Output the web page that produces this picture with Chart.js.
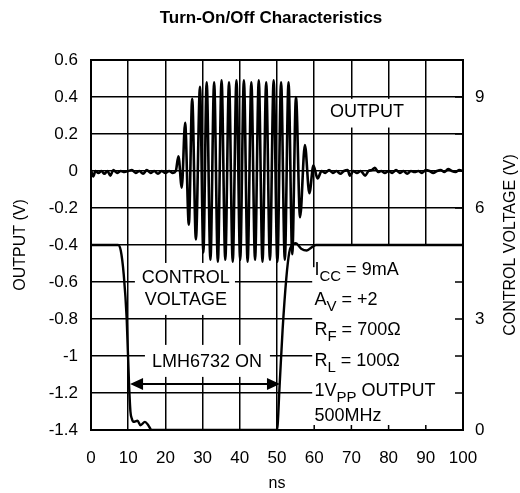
<!DOCTYPE html>
<html>
<head>
<meta charset="utf-8">
<script src="https://cdn.jsdelivr.net/npm/chart.js@4.4.1/dist/chart.umd.min.js"></script>
<style>
  body { margin: 0; background: #fff; }
  #wrap { width: 520px; height: 493px; position: relative; }
</style>
</head>
<body>
<div id="wrap"><canvas id="turnChart"></canvas></div>
<script>
// OUTPUT trace: time (ns) and level (V), peaks/troughs
const outTime = [0, 0.6, 1.2, 2, 2.8, 3.6, 4.4, 5.2, 6, 7, 8, 9, 10, 11, 12, 13, 14, 15, 16, 17, 18, 19, 20, 21, 22, 22.8,
  23.5, 24.4, 25.3, 26.3, 27.2, 28.2, 29.3, 30.2, 31.1, 32.1, 33.1, 34.1, 35.1, 36.1, 37.1, 38.1, 39.1, 40.1, 41.1,
  42.1, 43.1, 44.1, 45.1, 46.1, 47.1, 48.1, 49.1, 50.1, 51.1, 52.1, 53.1, 54.1, 55.1, 56.2, 57.5, 58.7, 59.8, 60.9,
  62, 63, 64, 65, 66, 67, 68, 69, 69.6, 70.5, 71.5, 72.5, 73.7, 74.6, 75.5, 76.3, 77.2, 78, 79, 80, 81, 82, 83, 84,
  85, 86, 87, 88, 89, 90, 91, 92, 93, 94, 95, 96, 97, 98, 99, 100];
const outVolt = [0.005, -0.03, 0.0, -0.01, 0.0, -0.015, 0.0, -0.025, 0.005, -0.01, 0.0, -0.005, 0.0, 0.005, -0.01, 0.0, -0.015, 0.005, -0.01, 0.0, -0.015, 0.0, -0.01, 0.0, -0.01, 0.0,
  0.08, -0.09, 0.26, -0.29, 0.39, -0.37, 0.455, -0.44, 0.48, -0.48, 0.48, -0.49, 0.49, -0.48, 0.48, -0.49, 0.49, -0.48, 0.49,
  -0.49, 0.48, -0.48, 0.49, -0.49, 0.48, -0.48, 0.49, -0.49, 0.48, -0.48, 0.48, -0.45, 0.40, -0.25, 0.14, -0.12, 0.03, -0.04,
  0.0, -0.01, 0.005, -0.01, 0.0, -0.015, 0.0, 0.005, -0.025, 0.0, -0.01, 0.0, -0.025, 0.0, 0.005, 0.017, -0.005, 0.0, -0.01, 0.0,
  -0.01, 0.005, -0.01, 0.0, -0.015, 0.0, -0.005, 0.0, -0.01, 0.005, 0.0, -0.01, 0.0, 0.005, -0.005, 0.01, 0.0, -0.005, 0.005, 0.0];

// CONTROL VOLTAGE trace (right axis, V)
const ctrlTime = [0, 7.3, 8, 8.8, 9.6, 10.2, 10.6, 11, 11.4, 12.5, 13.3, 14.5, 15.4, 16.3, 50, 50.7, 51.5, 52.5, 53.3, 54, 55, 56.5, 58, 59.5, 60.5, 100];
const ctrlVolt = [5, 5, 4.85, 4.2, 3.0, 1.3, 0.5, 0.3, 0.22, 0.25, 0.13, 0.22, 0.13, 0, 0, 1.2, 2.7, 4.1, 4.8, 5.0, 5.05, 4.9, 4.85, 4.95, 5, 5];

const rightLabels = [0, 3, 6, 9];
const noteLines = [
  [['I', 0], ['CC', 1], [' = 9mA', 0]],
  [['A', 0], ['V', 1], [' = +2', 0]],
  [['R', 0], ['F', 1], [' = 700\u03A9', 0]],
  [['R', 0], ['L', 1], [' = 100\u03A9', 0]],
  [['1V', 0], ['PP', 1], [' OUTPUT', 0]],
  [['500MHz', 0]]
];
const noteY = [-0.535, -0.697, -0.859, -1.027, -1.189, -1.324];

const FONT = "'Liberation Sans', Arial, Helvetica, sans-serif";

const annot = {
  id: 'annot',
  beforeDatasetsDraw(chart) {
    const { ctx, chartArea: a, scales: { x, y, y2 } } = chart;
    const px = v => x.getPixelForValue(v);
    const py = v => y.getPixelForValue(v);
    ctx.save();
    ctx.fillStyle = '#fff';
    // blank lower-right block for the conditions text
    const x60 = px(60), yq = py(-0.4);
    ctx.fillRect(x60 + 1, yq + 1, a.right - x60 - 1, a.bottom - yq - 1);
    ctx.fillRect(x60 - 2, py(-0.52), 4, a.bottom - py(-0.52));
    // label boxes
    const box = (x0, x1, y0, y1) => ctx.fillRect(px(x0), py(y0), px(x1) - px(x0), py(y1) - py(y0));
    box(62.1, 86.3, 0.39, 0.235);
    box(11.8, 38.7, -0.497, -0.778);
    box(14.5, 48.1, -0.94, -1.113);

    // inward ticks
    ctx.strokeStyle = '#000';
    ctx.lineWidth = 1.5;
    ctx.beginPath();
    for (let i = 1; i < 10; i++) {
      const yy = y2.getPixelForValue(i);
      ctx.moveTo(a.right, yy); ctx.lineTo(a.right - 8, yy);
    }
    for (let t = 70; t <= 90; t += 10) {
      ctx.moveTo(px(t), a.bottom); ctx.lineTo(px(t), a.bottom - 5);
    }
    ctx.moveTo(x60, a.bottom); ctx.lineTo(x60, a.bottom - 5);
    ctx.stroke();

    ctx.fillStyle = '#000';
    ctx.font = '18px ' + FONT;
    ctx.textBaseline = 'middle';
    ctx.textAlign = 'center';
    ctx.fillText('OUTPUT', px(74.2), py(0.319));
    ctx.fillText('CONTROL', px(25.5), py(-0.578));
    ctx.fillText('VOLTAGE', px(25.5), py(-0.697));
    ctx.fillText('LMH6732 ON', px(31.2), py(-1.032));

    // double arrow
    const ay = py(-1.151), ax0 = px(10.5), ax1 = px(50.8);
    ctx.lineWidth = 2;
    ctx.beginPath();
    ctx.moveTo(ax0 + 10, ay); ctx.lineTo(ax1 - 10, ay);
    ctx.stroke();
    ctx.beginPath();
    ctx.moveTo(ax0, ay); ctx.lineTo(ax0 + 13, ay - 6); ctx.lineTo(ax0 + 13, ay + 6); ctx.closePath();
    ctx.moveTo(ax1, ay); ctx.lineTo(ax1 - 13, ay - 6); ctx.lineTo(ax1 - 13, ay + 6); ctx.closePath();
    ctx.fill();

    // conditions
    ctx.textAlign = 'left';
    noteLines.forEach((parts, i) => {
      let cx = px(59.8) + 1;
      const cy = py(noteY[i]);
      parts.forEach(([s, sub]) => {
        ctx.font = (sub ? '15px ' : '18px ') + FONT;
        ctx.fillText(s, cx, cy + (sub ? 7 : 0));
        cx += ctx.measureText(s).width;
      });
    });
    ctx.restore();
  },
  afterDraw(chart) {
    const { ctx, chartArea: a } = chart;
    ctx.save();
    ctx.strokeStyle = '#000';
    ctx.lineWidth = 2;
    ctx.strokeRect(a.left, a.top, a.right - a.left, a.bottom - a.top);
    ctx.fillStyle = '#000';
    ctx.textAlign = 'center';
    ctx.textBaseline = 'middle';
    ctx.font = 'bold 17px ' + FONT;
    ctx.fillText('Turn-On/Off Characteristics', 271, 18);
    ctx.font = '16px ' + FONT;
    ctx.fillText('ns', (a.left + a.right) / 2, 484);
    ctx.translate(21, (a.top + a.bottom) / 2);
    ctx.rotate(-Math.PI / 2);
    ctx.fillText('OUTPUT (V)', 0, 0);
    ctx.restore();
    ctx.save();
    ctx.fillStyle = '#000';
    ctx.textAlign = 'center';
    ctx.textBaseline = 'middle';
    ctx.font = '16px ' + FONT;
    ctx.translate(511, (a.top + a.bottom) / 2);
    ctx.rotate(-Math.PI / 2);
    ctx.fillText('CONTROL VOLTAGE (V)', 0, 0);
    ctx.restore();
  }
};

const gridOpts = { color: '#000', lineWidth: 1.5, drawTicks: false };

new Chart(document.getElementById('turnChart').getContext('2d'), {
  type: 'line',
  data: {
    datasets: [{
      label: 'OUTPUT',
      data: outTime.map((t, i) => ({ x: t, y: outVolt[i] })),
      yAxisID: 'y',
      borderColor: '#000',
      borderWidth: 2.6,
      pointRadius: 0,
      cubicInterpolationMode: 'monotone'
    }, {
      label: 'CONTROL VOLTAGE',
      data: ctrlTime.map((t, i) => ({ x: t, y: ctrlVolt[i] })),
      yAxisID: 'y2',
      borderColor: '#000',
      borderWidth: 2.4,
      pointRadius: 0,
      cubicInterpolationMode: 'monotone'
    }]
  },
  options: {
    responsive: true,
    maintainAspectRatio: false,
    animation: false,
    layout: { padding: { top: 60 } },
    plugins: { legend: { display: false }, tooltip: { enabled: false } },
    scales: {
      x: {
        type: 'linear', min: 0, max: 100,
        grid: gridOpts,
        border: { color: '#000', width: 2 },
        ticks: { stepSize: 10, color: '#000', padding: 18, maxRotation: 0, font: { family: FONT, size: 17 } },
        afterFit: s => { s.height = 63; }
      },
      y: {
        position: 'left', min: -1.4, max: 0.6,
        grid: gridOpts,
        border: { color: '#000', width: 2 },
        ticks: {
          stepSize: 0.2, color: '#000', padding: 13, font: { family: FONT, size: 17 },
          callback: v => { const r = Number(v.toFixed(1)); return (r === 0 ? 0 : r).toString(); }
        },
        afterFit: s => { s.width = 91; }
      },
      y2: {
        position: 'right', min: 0, max: 10,
        grid: { drawOnChartArea: false, drawTicks: false },
        border: { color: '#000', width: 2 },
        ticks: {
          stepSize: 1, autoSkip: false, color: '#000', padding: 12, font: { family: FONT, size: 17 },
          callback: v => rightLabels.includes(v) ? String(v) : ''
        },
        afterFit: s => { s.width = 57; }
      }
    }
  },
  plugins: [annot]
});
</script>
</body>
</html>
